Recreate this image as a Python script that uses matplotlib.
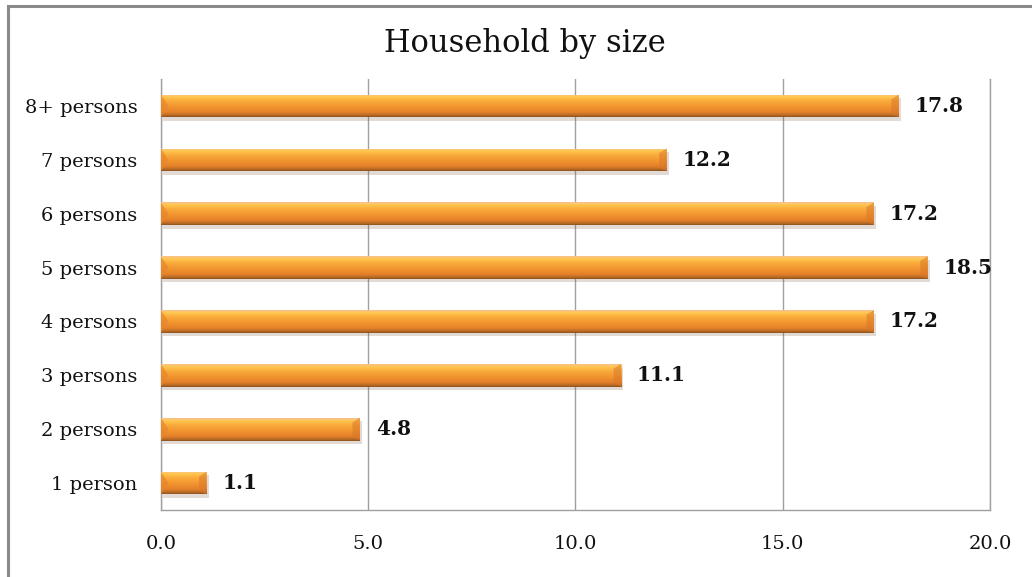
import numpy as np
import matplotlib
matplotlib.use("Agg")
import matplotlib.pyplot as plt
from matplotlib.colors import LinearSegmentedColormap
from matplotlib.patches import Rectangle, Polygon
import matplotlib.transforms as mtransforms

categories = ["1 person", "2 persons", "3 persons", "4 persons",
              "5 persons", "6 persons", "7 persons", "8+ persons"]
values = [1.1, 4.8, 11.1, 17.2, 18.5, 17.2, 12.2, 17.8]
xticks = [0, 5, 10, 15, 20]

plt.rcParams["font.family"] = "DejaVu Serif"

fig = plt.figure(figsize=(10.32, 5.77), dpi=100)
ax = fig.add_axes([0.156, 0.1161, 0.8033, 0.7469])

# outer chart frame (only top and left edges fall inside the canvas)
frame = Rectangle((8 / 1032, -0.1), 1.2, 1.1 - 6 / 577, transform=fig.transFigure,
                  fill=False, edgecolor="#8a8a8a", linewidth=2.2, zorder=0)
fig.patches.append(frame)

# vertical gradient used to shade the bars like a cylinder
shade = LinearSegmentedColormap.from_list("shade", [
    (0.00, "#f8c090"), (0.12, "#ffc850"), (0.30, "#f9ab3c"),
    (0.55, "#f2952f"), (0.80, "#e3802a"), (0.92, "#b86a25"), (1.00, "#8a5020")])
grad = np.linspace(0, 1, 256).reshape(-1, 1)

h = 0.42
y = np.arange(len(categories))
bars = ax.barh(y, values, height=h, color="none", edgecolor="none", zorder=3)

shadow_tr = ax.transData + mtransforms.ScaledTranslation(1.5 / 72, -2.5 / 72, fig.dpi_scale_trans)
for b in bars:
    x0, y0, w, bh = b.get_x(), b.get_y(), b.get_width(), b.get_height()
    ax.add_patch(Rectangle((x0, y0), w, bh, facecolor="#7a5a40", alpha=0.22,
                           edgecolor="none", transform=shadow_tr, zorder=2))
    im = ax.imshow(grad, cmap=shade, aspect="auto", extent=(x0, x0 + w, y0, y0 + bh),
                   origin="upper", zorder=3, interpolation="bilinear")
    im.set_clip_path(b)
    # bevelled ends
    dx = 0.18
    ax.add_patch(Polygon([(x0, y0 + bh), (x0 + dx, y0 + bh * 0.5), (x0, y0)],
                         closed=True, facecolor="#e8862a", edgecolor="none", alpha=0.7, zorder=4))
    ax.add_patch(Polygon([(x0 + w, y0 + bh), (x0 + w - dx, y0 + bh * 0.8),
                          (x0 + w - dx, y0 + bh * 0.15), (x0 + w, y0)],
                         closed=True, facecolor="#d9782a", edgecolor="none", alpha=0.55, zorder=4))
    ax.text(x0 + w + 0.38, y0 + bh / 2, f"{w:.1f}", va="center", ha="left",
            fontsize=14.5, fontweight="bold", color="#111111", zorder=5)

ax.set_xlim(0, 20)
ax.set_ylim(-0.5, len(categories) - 0.5)
ax.set_xticks(xticks)
ax.set_xticklabels([f"{t:.1f}" for t in xticks])
ax.set_yticks(y)
ax.set_yticklabels(categories)
ax.tick_params(axis="both", length=0, labelsize=14, colors="#111111")
ax.tick_params(axis="y", pad=17)
ax.tick_params(axis="x", pad=18)
ax.grid(axis="x", color="#a0a0a0", linewidth=1, zorder=1)
ax.set_axisbelow(True)
ax.spines["top"].set_visible(False)
for s in ["left", "bottom", "right"]:
    ax.spines[s].set_color("#a0a0a0")
    ax.spines[s].set_linewidth(1)

fig.text(0.509, 0.925, "Household by size", ha="center", va="center",
         fontsize=22, color="#111111")

fig.savefig("out.png", dpi=100, facecolor="white")
